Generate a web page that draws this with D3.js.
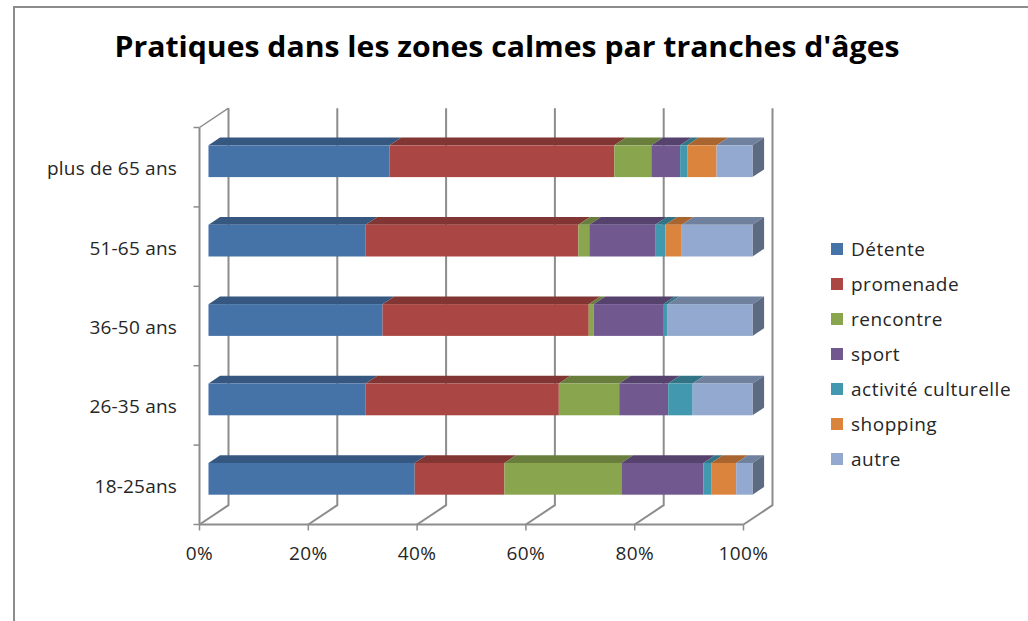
<!DOCTYPE html>
<html lang="fr">
<head>
<meta charset="UTF-8">
<title>Pratiques dans les zones calmes par tranches d'âges</title>
<script src="https://d3js.org/d3.v7.min.js"></script>
<style>
  body { margin: 0; background: #fff; }
  svg { display: block; font-family: "Open Sans", sans-serif; }
</style>
</head>
<body>
<script>
// data (percent of each age group)
const categories = ["plus de 65 ans", "51-65 ans", "36-50 ans", "26-35 ans", "18-25ans"];
const series = ["Détente", "promenade", "rencontre", "sport", "activité culturelle", "shopping", "autre"];
const colors = ["#4572A7", "#AA4643", "#89A54E", "#71588F", "#4198AF", "#DB843D", "#93A9CF"];
const values = [
  [33.3, 41.3, 6.8, 5.3, 1.3, 5.4, 6.6],
  [28.9, 39.1, 2.0, 12.1, 1.9, 3.0, 13.0],
  [32.0, 37.9, 0.9, 12.8, 0.8, 0.0, 15.6],
  [28.9, 35.5, 11.1, 9.0, 4.5, 0.0, 11.0],
  [37.9, 16.5, 21.5, 15.1, 1.4, 4.6, 3.0]
];
const xTicks = [0, 0.2, 0.4, 0.6, 0.8, 1];

const width = 1028, height = 621;

const svg = d3.select("body").append("svg")
    .attr("width", width)
    .attr("height", height);

// frame
svg.append("rect")
    .attr("x", 14).attr("y", 7)
    .attr("width", width + 20).attr("height", height + 20)
    .attr("fill", "none").attr("stroke", "#8c8c8c").attr("stroke-width", 2);

const x = d3.scaleLinear().domain([0, 1]).range([199.5, 743.5]);
const y = d3.scaleBand().domain(categories).range([127.5, 524.5])
    .paddingInner(0.6).paddingOuter(0.3);
const step = y.step();
const floorY = 524.5, topY = 127.5;

// depth projection: d = 0 front plane, d = 1 back wall
const depth = d => [29 * d, -19.3 * d];
const [bx, by] = depth(1);
const grid = "#8c8c8c";

svg.append("text")
    .attr("x", 507).attr("y", 57)
    .attr("text-anchor", "middle")
    .attr("font-weight", "bold")
    .attr("font-size", 29)
    .attr("fill", "#000")
    .attr("textLength", 785)
    .attr("lengthAdjust", "spacingAndGlyphs")
    .text("Pratiques dans les zones calmes par tranches d'âges");

// back wall gridlines + floor diagonals
const g = svg.append("g").attr("stroke", grid).attr("fill", "none");
xTicks.forEach(t => {
  g.append("path")
      .attr("stroke-width", 2)
      .attr("d", `M${x(t)},${floorY}L${x(t) + bx},${floorY + by}L${x(t) + bx},${topY + by}`);
});
g.append("path").attr("stroke-width", 1.5)
    .attr("d", `M${x(0)},${topY}L${x(0) + bx},${topY + by}`);

// front axes
g.append("line").attr("stroke-width", 2)
    .attr("x1", x(0)).attr("x2", x(0)).attr("y1", topY).attr("y2", floorY);
g.append("line").attr("stroke-width", 2)
    .attr("x1", x(0)).attr("x2", x(1)).attr("y1", floorY).attr("y2", floorY);
d3.range(categories.length + 1).forEach(i => {
  const yy = topY + i * step;
  g.append("line").attr("stroke-width", 1.5)
      .attr("x1", x(0) - 6).attr("x2", x(0)).attr("y1", yy).attr("y2", yy);
});
xTicks.forEach(t => {
  g.append("line").attr("stroke-width", 1.5)
      .attr("x1", x(t)).attr("x2", x(t)).attr("y1", floorY).attr("y2", floorY + 6);
});

// axis labels
svg.append("g").selectAll("text").data(categories).join("text")
    .attr("x", 177)
    .attr("y", d => y(d) + y.bandwidth() / 2 + 1)
    .attr("text-anchor", "end")
    .attr("dominant-baseline", "central")
    .attr("font-size", 19)
    .attr("letter-spacing", 0.2)
    .attr("fill", "#262626")
    .text(d => d);

svg.append("g").selectAll("text").data(xTicks).join("text")
    .attr("x", d => x(d))
    .attr("y", 560)
    .attr("text-anchor", "middle")
    .attr("font-size", 19)
    .attr("letter-spacing", 0.4)
    .attr("fill", "#262626")
    .text(d3.format(".0%"));

// 3D stacked bars
const [fx, fy] = depth(0.31);
const [kx, ky] = depth(0.71);
const dx = kx - fx, dy = ky - fy;

categories.forEach((cat, ci) => {
  const total = d3.sum(values[ci]);
  let acc = 0;
  const segs = values[ci].map((v, si) => {
    const s = { x0: acc / total, x1: (acc + v) / total, color: colors[si] };
    acc += v;
    return s;
  }).filter(s => s.x1 > s.x0);

  const top = y(cat) + fy;
  const h = y.bandwidth();
  const bar = svg.append("g");

  segs.forEach(s => {
    const l = x(s.x0) + fx, r = x(s.x1) + fx;
    bar.append("path")
        .attr("fill", d3.color(s.color).darker(0.75))
        .attr("d", `M${l},${top}L${l + dx},${top + dy}L${r + dx},${top + dy}L${r},${top}Z`);
  });
  const last = segs[segs.length - 1];
  const re = x(last.x1) + fx;
  bar.append("path")
      .attr("fill", d3.color(last.color).darker(1.3))
      .attr("d", `M${re},${top}L${re + dx},${top + dy}L${re + dx},${top + dy + h}L${re},${top + h}Z`);
  segs.forEach(s => {
    bar.append("rect")
        .attr("x", x(s.x0) + fx)
        .attr("y", top)
        .attr("width", x(s.x1) - x(s.x0))
        .attr("height", h)
        .attr("fill", s.color);
  });
});

// legend
const legend = svg.append("g").attr("transform", "translate(831,249)");
series.forEach((name, i) => {
  const row = legend.append("g").attr("transform", `translate(0,${i * 35})`);
  row.append("rect").attr("x", 0).attr("y", -6).attr("width", 12).attr("height", 12)
      .attr("fill", colors[i]);
  row.append("text").attr("x", 20).attr("y", 0)
      .attr("dominant-baseline", "central")
      .attr("font-size", 19)
      .attr("letter-spacing", 0.5)
      .attr("fill", "#262626")
      .text(name);
});
</script>
</body>
</html>
